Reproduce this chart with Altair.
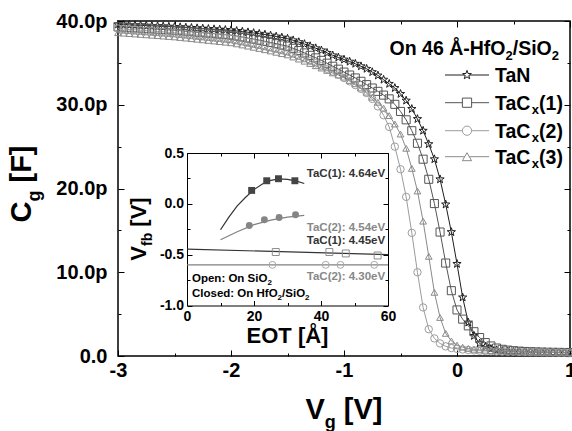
import altair as alt
import pandas as pd

# ---------------- data ----------------
V_START = -3.0
V_STEP = 0.05
SERIES = ["TaN", "TaCx(1)", "TaCx(2)", "TaCx(3)"]

TAN = [
    39.60, 39.57, 39.54, 39.51, 39.48, 39.45, 39.42, 39.39, 39.36, 39.33,
    39.30, 39.26, 39.22, 39.18, 39.14, 39.10, 39.06, 39.02, 38.98, 38.94,
    38.90, 38.82, 38.74, 38.66, 38.57, 38.48, 38.38, 38.27, 38.15, 38.03,
    37.90, 37.70, 37.48, 37.25, 37.00, 36.75, 36.50, 36.20, 35.90, 35.65,
    35.40, 35.15, 34.90, 34.60, 34.30, 33.90, 33.50, 33.00, 32.50, 32.00,
    31.30, 30.50, 29.50, 28.30, 26.90, 25.30, 23.50, 21.10, 18.10, 14.80,
    11.00, 7.00, 4.00, 2.40, 1.50, 1.10, 0.85, 0.70, 0.62, 0.57,
    0.53, 0.50, 0.48, 0.46, 0.45, 0.44, 0.43, 0.42, 0.41, 0.40,
    0.40]
TAC1 = [
    39.30, 39.26, 39.22, 39.18, 39.14, 39.10, 39.06, 39.02, 38.98, 38.94,
    38.90, 38.84, 38.78, 38.72, 38.66, 38.60, 38.54, 38.48, 38.42, 38.36,
    38.30, 38.19, 38.08, 37.96, 37.84, 37.71, 37.58, 37.44, 37.29, 37.14,
    37.00, 36.74, 36.47, 36.19, 35.90, 35.60, 35.30, 34.96, 34.60, 34.25,
    33.90, 33.55, 33.20, 32.80, 32.40, 32.00, 31.60, 31.15, 30.70, 30.05,
    29.20, 28.20, 26.90, 25.40, 23.50, 21.10, 18.20, 14.80, 11.10, 7.80,
    5.50, 4.40, 3.60, 2.90, 2.20, 1.60, 1.20, 0.95, 0.80, 0.70,
    0.63, 0.58, 0.54, 0.51, 0.49, 0.47, 0.45, 0.44, 0.43, 0.42,
    0.41]
TAC2 = [
    39.10, 39.05, 39.00, 38.95, 38.90, 38.85, 38.80, 38.75, 38.70, 38.65,
    38.60, 38.53, 38.46, 38.39, 38.32, 38.25, 38.18, 38.11, 38.04, 37.97,
    37.90, 37.77, 37.64, 37.50, 37.36, 37.22, 37.07, 36.92, 36.76, 36.60,
    36.40, 36.12, 35.84, 35.55, 35.25, 34.95, 34.62, 34.30, 33.97, 33.60,
    33.20, 32.80, 32.35, 31.90, 31.40, 30.70, 29.80, 28.75, 27.35, 25.00,
    22.30, 19.00, 14.70, 10.00, 5.80, 3.20, 2.10, 1.50, 1.15, 0.95,
    0.85, 0.78, 0.72, 0.67, 0.63, 0.60, 0.57, 0.55, 0.53, 0.51,
    0.50, 0.49, 0.48, 0.47, 0.46, 0.45, 0.44, 0.43, 0.42, 0.41,
    0.40]
TAC3 = [
    38.60, 38.55, 38.50, 38.45, 38.40, 38.35, 38.30, 38.25, 38.20, 38.15,
    38.10, 38.03, 37.96, 37.89, 37.82, 37.75, 37.68, 37.61, 37.54, 37.47,
    37.40, 37.27, 37.14, 37.00, 36.86, 36.72, 36.57, 36.42, 36.26, 36.10,
    35.95, 35.70, 35.45, 35.20, 34.93, 34.66, 34.38, 34.10, 33.80, 33.55,
    33.30, 32.90, 32.50, 32.00, 31.50, 30.90, 30.30, 29.60, 28.70, 27.70,
    26.50, 24.80, 22.40, 19.70, 16.10, 11.90, 7.60, 4.60, 2.70, 1.80,
    1.30, 1.05, 0.90, 0.80, 0.74, 0.69, 0.65, 0.62, 0.59, 0.57,
    0.55, 0.53, 0.52, 0.51, 0.50, 0.49, 0.48, 0.47, 0.46, 0.45,
    0.44]

MX_LABELS = [-3, -2, -1, 0, 1]
MY_LABELS = [0, 10, 20, 30, 40]
MX_TICKS = [-3, -2.5, -2, -1.5, -1, -0.5, 0, 0.5, 1]
MY_TICKS = [0, 5, 10, 15, 20, 25, 30, 35, 40]

# inset: flat-band voltage vs EOT
CLOSED1_EOT = [19.3, 23.8, 27.3, 32.2]
CLOSED1_VFB = [0.132, 0.227, 0.247, 0.227]
CLOSED2_EOT = [18.6, 23.1, 27.5, 32.4]
CLOSED2_VFB = [-0.213, -0.156, -0.134, -0.107]
OPEN1_EOT = [26.5, 42.5, 47.4, 56.9]
OPEN1_VFB = [-0.474, -0.474, -0.488, -0.508]
OPEN2_EOT = [25.5, 41.4, 45.8, 55.9]
OPEN2_VFB = [-0.60, -0.60, -0.60, -0.60]
FIT1_EOT = [10, 12.5, 15, 17.5, 20, 22.5, 25, 27.5, 30, 32.5, 35]
FIT1_VFB = [-0.255, -0.13, -0.02, 0.065, 0.14, 0.195, 0.23, 0.245, 0.24, 0.225, 0.20]
FIT2_EOT = [10, 15, 20, 25, 30, 35]
FIT2_VFB = [-0.353, -0.275, -0.205, -0.16, -0.13, -0.114]
LIN1_EOT = [0, 60]
LIN1_VFB = [-0.445, -0.50]
LIN2_EOT = [0, 60]
LIN2_VFB = [-0.60, -0.60]

IX_LABELS = [0, 20, 40, 60]
IY_LABELS = [-1, -0.5, 0, 0.5]
IX_TICKS = [0, 10, 20, 30, 40, 50, 60]
IY_TICKS = [-1, -0.75, -0.5, -0.25, 0, 0.25, 0.5]

ANNOTATIONS = ["TaC(1): 4.64eV", "TaC(2): 4.54eV", "TaC(1): 4.45eV", "TaC(2): 4.30eV"]

# ---------------- styling / layout ----------------
FONT = "Liberation Sans"
W, H = 452, 335
COLORS = ["#1e1e1e", "#555555", "#9c9c9c", "#8a8a8a"]
STAR = ("M0,-1L0.235,-0.324L0.951,-0.309L0.380,0.124L0.588,0.809L0,0.4"
        "L-0.588,0.809L-0.380,0.124L-0.951,-0.309L-0.235,-0.324Z")
SHAPES = [STAR, "square", "circle", "triangle-up"]
SIZES = [75, 45, 55, 60]

IX0, IX1, IY0, IY1 = 69, 270, 132, 284.5

AB = {' ': 278, '(': 333, ')': 333, '-': 333, '.': 278, '/': 278, ':': 333,
      '[': 333, ']': 333, 'A': 722, 'C': 722, 'E': 667, 'F': 611, 'H': 722,
      'N': 722, 'O': 778, 'S': 667, 'T': 611, 'V': 667, 'Å': 722, 'a': 556,
      'b': 611, 'c': 556, 'd': 611, 'e': 556, 'f': 333, 'g': 611, 'i': 278,
      'l': 278, 'n': 611, 'o': 611, 'p': 611, 's': 556, 'x': 556}


def tw(s, size):
    return sum(AB.get(ch, 556) for ch in s) * size / 1000.0


def txt(s, x, y, size, color="black", align="left", angle=0):
    return alt.Chart(pd.DataFrame({"t": [s]})).mark_text(
        font=FONT, fontWeight="bold", fontSize=size, color=color,
        align=align, baseline="alphabetic", angle=angle
    ).encode(x=alt.value(x), y=alt.value(y), text="t:N")


def rich(pieces, x, y, align="left", angle=0, color="black"):
    total = sum(tw(t, s) for t, s, d in pieces)
    off = {"left": 0, "center": -total / 2, "right": -total}[align]
    out = []
    for t, s, d in pieces:
        stripped = t.lstrip(" ")
        off += tw(t[:len(t) - len(stripped)], s)
        if angle == 0:
            out.append(txt(stripped, x + off, y + d, s, color))
        else:
            out.append(txt(stripped, x + d, y - off, s, color, angle=270))
        off += tw(stripped, s)
    return out


def tick_axis(orient, offset, values, test, big, small, domain=False):
    return alt.Axis(orient=orient, offset=offset, values=values, labels=False,
                    ticks=True,
                    tickSize={"condition": {"test": test, "value": big}, "value": small},
                    tickColor="black", tickWidth=1, domain=domain,
                    domainColor="black", domainWidth=1, grid=False, title="")


# ---------------- tables ----------------
rows = []
for name, vals in zip(SERIES, [TAN, TAC1, TAC2, TAC3]):
    for i, c in enumerate(vals):
        rows.append({"V": round(V_START + V_STEP * i, 3), "C": c, "S": name})
main_df = pd.DataFrame(rows)


def pts(group, xs, ys):
    return [{"E": a, "F": b, "G": group} for a, b in zip(xs, ys)]


line_df = pd.DataFrame(pts("fit1", FIT1_EOT, FIT1_VFB) + pts("fit2", FIT2_EOT, FIT2_VFB)
                       + pts("lin1", LIN1_EOT, LIN1_VFB) + pts("lin2", LIN2_EOT, LIN2_VFB))
closed_df = pd.DataFrame(pts("c1", CLOSED1_EOT, CLOSED1_VFB) + pts("c2", CLOSED2_EOT, CLOSED2_VFB))
open_df = pd.DataFrame(pts("o1", OPEN1_EOT, OPEN1_VFB) + pts("o2", OPEN2_EOT, OPEN2_VFB))

# ---------------- main plot ----------------
sc_mx = alt.Scale(domain=[-3, 1], nice=False, zero=False)
sc_my = alt.Scale(domain=[0, 40], nice=False, zero=False)

ax_mx = alt.Axis(values=MX_LABELS, labelExpr="'' + datum.value", ticks=False, tickSize=0,
                 domain=False, grid=False, labelFontSize=20, labelPadding=4,
                 labelFlush=False, labelOverlap=False, title="")
ax_my = alt.Axis(values=MY_LABELS,
                 labelExpr="datum.value == 0 ? '0.0' : format(datum.value, '.1f') + 'p'",
                 ticks=False, tickSize=0, domain=False, grid=False, labelFontSize=20,
                 labelPadding=11, labelFlush=False, labelOverlap=False, title="")

color_main = alt.Color("S:N", scale=alt.Scale(domain=SERIES, range=COLORS), legend=None)

main_lines = alt.Chart(main_df).mark_line(strokeWidth=1).encode(
    x=alt.X("V:Q", scale=sc_mx, axis=ax_mx),
    y=alt.Y("C:Q", scale=sc_my, axis=ax_my),
    color=color_main)

main_points = alt.Chart(main_df).mark_point(filled=False, strokeWidth=1, opacity=1).encode(
    x=alt.X("V:Q", scale=sc_mx, axis=None),
    y=alt.Y("C:Q", scale=sc_my, axis=None),
    color=color_main,
    shape=alt.Shape("S:N", scale=alt.Scale(domain=SERIES, range=SHAPES), legend=None),
    size=alt.Size("S:N", scale=alt.Scale(domain=SERIES, range=SIZES), legend=None))

main_ticks_a = alt.Chart(main_df).mark_point(opacity=0).encode(
    x=alt.X("V:Q", scale=sc_mx, axis=tick_axis("top", -H, MX_TICKS, "datum.value % 1 == 0", 6, 3)),
    y=alt.Y("C:Q", scale=sc_my, axis=tick_axis("right", -W, MY_TICKS, "datum.value % 10 == 0", 6, 3)))
main_ticks_b = alt.Chart(main_df).mark_point(opacity=0).encode(
    x=alt.X("V:Q", scale=sc_mx, axis=tick_axis("bottom", -H, MX_TICKS, "datum.value % 1 == 0", 6, 3)),
    y=alt.Y("C:Q", scale=sc_my, axis=tick_axis("left", -W, MY_TICKS, "datum.value % 10 == 0", 6, 3)))

# ---------------- inset ----------------
sc_ix = alt.Scale(domain=[0, 60], range=[IX0, IX1], nice=False, zero=False)
sc_iy = alt.Scale(domain=[-1, 0.5], range=[IY1, IY0], nice=False, zero=False)

ax_ix = alt.Axis(orient="bottom", offset=IY1 - H, values=IX_LABELS, labelExpr="'' + datum.value",
                 ticks=False, tickSize=0, domain=True, domainColor="black", domainWidth=1,
                 grid=False, labelFontSize=14, labelPadding=3.5, labelFlush=False,
                 labelOverlap=False, title="")
ax_iy = alt.Axis(orient="left", offset=-IX0, values=IY_LABELS,
                 labelExpr="(datum.value < 0 ? '-' : '') + format(abs(datum.value), '.1f')",
                 ticks=False, tickSize=0, domain=True, domainColor="black", domainWidth=1,
                 grid=False, labelFontSize=14, labelPadding=3.5, labelFlush=False,
                 labelOverlap=False, title="")

inset_lines = alt.Chart(line_df).mark_line(strokeWidth=1.2).encode(
    x=alt.X("E:Q", scale=sc_ix, axis=ax_ix),
    y=alt.Y("F:Q", scale=sc_iy, axis=ax_iy),
    color=alt.Color("G:N", scale=alt.Scale(domain=["fit1", "fit2", "lin1", "lin2"],
                                            range=["#333333", "#808080", "#333333", "#808080"]),
                    legend=None))

inset_closed = alt.Chart(closed_df).mark_point(filled=True, opacity=1, size=48).encode(
    x=alt.X("E:Q", scale=sc_ix, axis=None),
    y=alt.Y("F:Q", scale=sc_iy, axis=None),
    color=alt.Color("G:N", scale=alt.Scale(domain=["c1", "c2"], range=["#444444", "#858585"]),
                    legend=None),
    shape=alt.Shape("G:N", scale=alt.Scale(domain=["c1", "c2"], range=["square", "circle"]),
                    legend=None))

inset_open = alt.Chart(open_df).mark_point(filled=False, opacity=1, size=48, strokeWidth=1).encode(
    x=alt.X("E:Q", scale=sc_ix, axis=None),
    y=alt.Y("F:Q", scale=sc_iy, axis=None),
    color=alt.Color("G:N", scale=alt.Scale(domain=["o1", "o2"], range=["#8c8c8c", "#a8a8a8"]),
                    legend=None),
    shape=alt.Shape("G:N", scale=alt.Scale(domain=["o1", "o2"], range=["square", "circle"]),
                    legend=None))

inset_ticks_a = alt.Chart(line_df).mark_point(opacity=0).encode(
    x=alt.X("E:Q", scale=sc_ix, axis=tick_axis("top", -IY1, IX_TICKS, "datum.value % 20 == 0", 5, 3)),
    y=alt.Y("F:Q", scale=sc_iy, axis=tick_axis("right", IX0 - W, IY_TICKS, "datum.value % 0.5 == 0", 5, 3)))
inset_ticks_b = alt.Chart(line_df).mark_point(opacity=0).encode(
    x=alt.X("E:Q", scale=sc_ix, axis=tick_axis("bottom", IY0 - H, IX_TICKS, "datum.value % 20 == 0", 5, 3, True)),
    y=alt.Y("F:Q", scale=sc_iy, axis=tick_axis("left", -IX1, IY_TICKS, "datum.value % 0.5 == 0", 5, 3, True)))

# ---------------- texts ----------------
texts = []
texts += rich([("V", 29, 0), ("g", 18, 9), (" [V]", 29, 0)], W / 2, 398, align="center")
texts += rich([("C", 29, 0), ("g", 18, 9), (" [F]", 29, 0)], -87, 163, align="center", angle=270)
texts += rich([("EOT [Å]", 22, 0)], (IX0 + IX1) / 2, 322, align="center")
texts += rich([("V", 22, 0), ("fb", 14, 6), (" [V]", 22, 0)], 27.5, 208, align="center", angle=270)
texts += rich([("On 46 Å-HfO", 19.5, 0), ("2", 13, 5), ("/SiO", 19.5, 0), ("2", 13, 5)], 441, 34, align="right")

ann_colors = ["#333333", "#888888", "#333333", "#888888"]
ann_y = [155.8, 209.8, 223.1, 259.1]
for s, c, yy in zip(ANNOTATIONS, ann_colors, ann_y):
    texts += rich([(s, 11.5, 0)], 268, yy, align="right", color=c)
texts += rich([("Open: On SiO", 11.5, 0), ("2", 8, 3)], 74, 260.6)
texts += rich([("Closed: On HfO", 11.5, 0), ("2", 8, 3), ("/SiO", 11.5, 0), ("2", 8, 3)], 74, 275.6)

# legend
legend_layers = []
leg_y = [54, 81.7, 109.7, 135.7]
for name, col, shp, yy in zip(SERIES, COLORS, SHAPES, leg_y):
    legend_layers.append(alt.Chart(pd.DataFrame({"t": [name]})).mark_rule(color=col, strokeWidth=1).encode(
        x=alt.value(327), x2=alt.value(371), y=alt.value(yy)))
    legend_layers.append(alt.Chart(pd.DataFrame({"t": [name]})).mark_point(
        shape=shp, size=85, filled=True, fill="white", stroke=col, strokeWidth=1, opacity=1).encode(
        x=alt.value(349), y=alt.value(yy)))
    if name == "TaN":
        legend_layers += rich([("TaN", 19.5, 0)], 377, yy + 7)
    else:
        legend_layers += rich([("TaC", 19.5, 0), ("x", 13, 4), (name[4:], 19.5, 0)], 377, yy + 7)

layers = [main_lines, main_points, main_ticks_a, main_ticks_b,
          inset_lines, inset_closed, inset_open, inset_ticks_a, inset_ticks_b] + texts + legend_layers

chart = alt.layer(*layers).resolve_scale(
    x="independent", y="independent", color="independent", shape="independent", size="independent"
).resolve_axis(
    x="independent", y="independent"
).properties(
    width=W, height=H,
    padding={"left": 118, "top": 21, "right": 2, "bottom": 75},
    autosize=alt.AutoSizeParams(type="none"),
    background="white"
).configure_view(
    stroke="black", strokeWidth=1.5
).configure_axis(
    labelFont=FONT, labelFontWeight="bold", labelColor="black"
)

chart.save("out.html", embed_options={"renderer": "svg", "actions": False})
